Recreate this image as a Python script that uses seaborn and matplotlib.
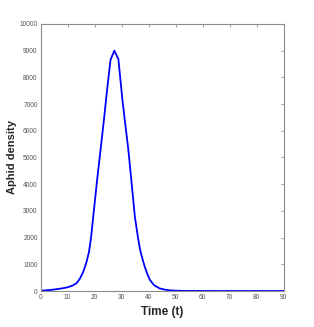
import numpy as np
import pandas as pd
import matplotlib
matplotlib.use('Agg')
import matplotlib.pyplot as plt
import seaborn as sns

# Values (solver output points)
time = [0, 2, 4, 6, 8, 10, 12, 13.4, 14.6, 15.8, 17, 17.9, 18.7, 19.5, 20.8,
        22.2, 23.5, 24.7, 25.9, 27.3, 28.8, 30.3, 31.4, 32.5, 33.7, 34.9,
        35.9, 36.8, 37.7, 38.6, 39.5, 40.5, 42, 44, 46, 48, 50, 53, 56, 60,
        65, 70, 75, 80, 85, 90]
density = [12, 25, 45, 70, 100, 140, 210, 300, 470, 720, 1080, 1450, 2000,
           2783, 4034, 5280, 6450, 7600, 8650, 9000, 8680, 7150, 6200, 5280,
           4034, 2783, 2100, 1560, 1200, 900, 640, 412, 220, 100, 50, 25, 12,
           5, 3, 2, 1, 1, 1, 1, 1, 1]

df = pd.DataFrame({'Time': time, 'Aphid density': density})

sns.set_style('white')
plt.rcParams['font.family'] = ['Liberation Sans Narrow', 'Liberation Sans', 'DejaVu Sans']

fig = plt.figure(figsize=(3.14, 3.27), dpi=100)
ax = fig.add_axes([0.129, 0.110, 0.775, 0.817])

sns.lineplot(data=df, x='Time', y='Aphid density', color='#0000ff',
             linewidth=1.3, ax=ax)

ax.set_xlim(0, 90)
ax.set_ylim(0, 10000)
ax.set_xticks(range(0, 91, 10))
ax.set_yticks(range(0, 10001, 1000))

for side in ['left', 'right', 'top', 'bottom']:
    ax.spines[side].set_visible(True)
    ax.spines[side].set_color('#8c8c8c')
    ax.spines[side].set_linewidth(0.8)

ax.tick_params(axis='both', which='both', direction='in', length=2.5,
               width=0.6, color='#8c8c8c', labelsize=4.8, labelcolor='#555555',
               top=True, right=True, pad=2)

ax.set_xlabel('Time (t)', fontsize=8.5, fontweight='bold', labelpad=4)
ax.set_ylabel('Aphid density', fontsize=8, fontweight='bold', labelpad=2,
              family=['Liberation Sans', 'DejaVu Sans'])

fig.savefig('out.png', dpi=100)
